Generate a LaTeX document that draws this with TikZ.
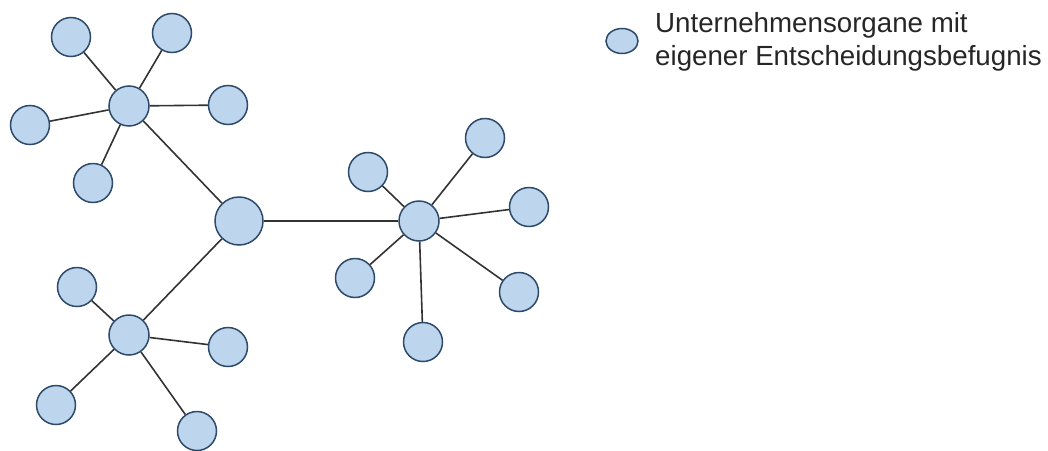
\documentclass[tikz,border=0pt]{standalone}
\usepackage{fontspec}
\setmainfont{Liberation Sans}
\usetikzlibrary{shapes.geometric}
\begin{document}
\begin{tikzpicture}[x=1pt,y=-1pt,
  org/.style={circle,draw=borderblue,fill=fillblue,line width=1.5pt,inner sep=0pt,minimum size=#1},
  org/.default=39pt,
  link/.style={draw=linegray,line width=1.6pt},
  legtxt/.style={anchor=base west,inner sep=0pt,font=\fontsize{27.7}{34}\selectfont,text=black!85}]
\definecolor{fillblue}{HTML}{BDD6EE}
\definecolor{borderblue}{HTML}{2E4A6B}
\definecolor{linegray}{HTML}{333333}
\useasboundingbox (0,0) rectangle (1048,450);
% center
\node[org=48pt] (c) at (239,221) {};
% top-left hub
\node[org=40pt] (h1) at (129,106) {};
\node[org] (a1) at (71,37) {};
\node[org] (a2) at (172,33) {};
\node[org] (a3) at (228,105) {};
\node[org] (a4) at (30,125) {};
\node[org] (a5) at (93,183) {};
% bottom-left hub
\node[org=40pt] (h2) at (129,335) {};
\node[org] (b1) at (77,287) {};
\node[org] (b2) at (228,347) {};
\node[org] (b3) at (56,405) {};
\node[org] (b4) at (197,431) {};
% right hub
\node[org=40pt] (h3) at (419,221) {};
\node[org] (d1) at (368,172) {};
\node[org] (d2) at (485,138) {};
\node[org] (d3) at (529,207) {};
\node[org] (d4) at (355,278) {};
\node[org] (d5) at (519,292) {};
\node[org] (d6) at (423,342) {};
\foreach \a/\b in {c/h1,c/h2,c/h3,h1/a1,h1/a2,h1/a3,h1/a4,h1/a5,h2/b1,h2/b2,h2/b3,h2/b4,h3/d1,h3/d2,h3/d3,h3/d4,h3/d5,h3/d6}
  \path[link] (\a) -- (\b);
% legend
\node[ellipse,draw=borderblue,fill=fillblue,line width=1.5pt,minimum width=32pt,minimum height=25pt,inner sep=0pt] (leg) at (622,41) {};
\node[legtxt] (leg1) at (655,32) {Unternehmensorgane mit};
\node[legtxt] (leg2) at (655,65) {eigener Entscheidungsbefugnis};
\end{tikzpicture}
\end{document}
